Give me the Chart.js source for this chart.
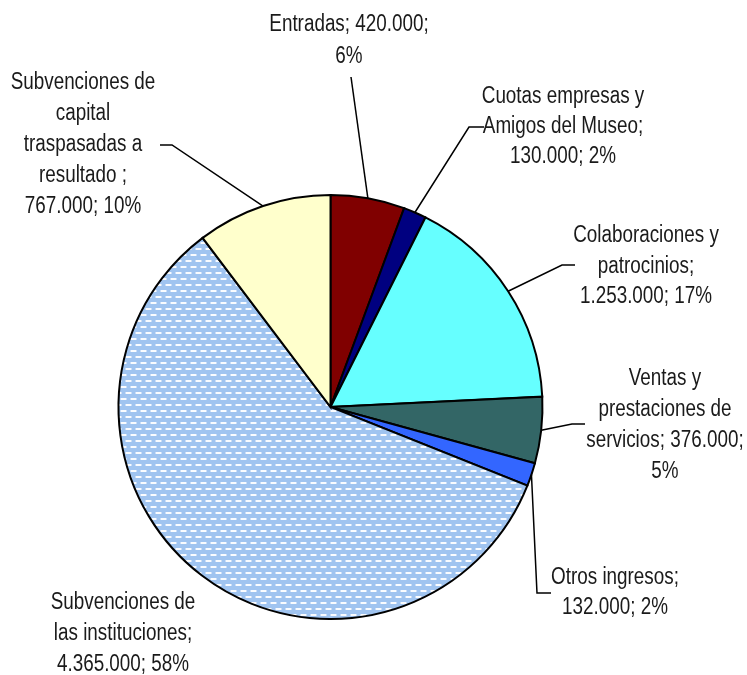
<!DOCTYPE html>
<html>
<head>
<meta charset="utf-8">
<script src="https://cdn.jsdelivr.net/npm/chart.js@4.4.1/dist/chart.umd.min.js"></script>
<style>
  html, body { margin: 0; padding: 0; background: #fff; }
  #wrap { width: 747px; height: 675px; }
</style>
</head>
<body>
<div id="wrap"><canvas id="myChart" width="747" height="675"></canvas></div>
<script>
// ingresos del museo
const categories = [
    'Entradas',
    'Cuotas empresas y Amigos del Museo',
    'Colaboraciones y patrocinios',
    'Ventas y prestaciones de servicios',
    'Otros ingresos',
    'Subvenciones de las instituciones',
    'Subvenciones de capital traspasadas a resultado'
];
const values = [420000, 130000, 1253000, 376000, 132000, 4365000, 767000];

// texto de las etiquetas, tal cual sale en el original
const labelLines = [
    ['Entradas; 420.000;', '6%'],
    ['Cuotas empresas y', 'Amigos del Museo;', '130.000; 2%'],
    ['Colaboraciones y', 'patrocinios;', '1.253.000; 17%'],
    ['Ventas y', 'prestaciones de', 'servicios; 376.000;', '5%'],
    ['Otros ingresos;', '132.000; 2%'],
    ['Subvenciones de', 'las instituciones;', '4.365.000; 58%'],
    ['Subvenciones de', 'capital', 'traspasadas a', 'resultado ;', '767.000; 10%']
];

// donde va cada etiqueta (centro x, primera linea y, salto) y el codo de la guia
const labelLayout = [
    { x: 349, y: 25, lh: 32, guide: [[351, 77]] },
    { x: 563, y: 97, lh: 30, guide: [[469, 127], [484, 127]] },
    { x: 646, y: 236, lh: 30.5, guide: [[562, 265], [575, 265]] },
    { x: 665, y: 379, lh: 31, guide: [[572, 424], [585, 424]] },
    { x: 615, y: 578, lh: 30, guide: [[537, 593], [551, 593]] },
    { x: 123, y: 603, lh: 31, guide: null },
    { x: 83, y: 83, lh: 31, guide: [[172, 145], [160, 145]] }
];

// trama de puntos para las subvenciones de las instituciones
function makeDots() {
    const c = document.createElement('canvas');
    c.width = 10;
    c.height = 12;
    const g = c.getContext('2d');
    g.fillStyle = '#a0c4f0';
    g.fillRect(0, 0, 10, 12);
    g.fillStyle = 'rgba(255,255,255,0.95)';
    g.fillRect(1, 2, 5, 2);
    g.fillRect(6, 8, 4, 2);
    g.fillRect(0, 8, 1, 2);
    g.fillStyle = 'rgba(255,255,255,0.45)';
    g.fillRect(0, 2, 1, 2);
    g.fillRect(6, 2, 1, 2);
    g.fillRect(5, 8, 1, 2);
    g.fillRect(1, 8, 1, 2);
    return g.createPattern(c, 'repeat');
}

const ctx0 = document.getElementById('myChart').getContext('2d');
const colors = ['#800000', '#000080', '#66ffff', '#336666', '#3366ff', makeDots(), '#ffffcc'];

// no hay Arial Narrow: Liberation Sans estrechada a mano
const FONT = '23px "Liberation Sans", Arial, sans-serif';
const NARROW = 0.82;

const outsideLabels = {
    id: 'outsideLabels',
    afterDatasetsDraw(chart) {
        const ctx = chart.ctx;
        const arcs = chart.getDatasetMeta(0).data;
        ctx.save();
        // lineas guia
        ctx.strokeStyle = '#000';
        ctx.lineWidth = 1.5;
        arcs.forEach((arc, i) => {
            const lay = labelLayout[i];
            if (!lay.guide) return;
            const p = arc.getProps(['x', 'y', 'startAngle', 'endAngle', 'outerRadius'], true);
            const mid = (p.startAngle + p.endAngle) / 2;
            ctx.beginPath();
            ctx.moveTo(p.x + Math.cos(mid) * p.outerRadius, p.y + Math.sin(mid) * p.outerRadius);
            lay.guide.forEach(pt => ctx.lineTo(pt[0], pt[1]));
            ctx.stroke();
        });
        // textos
        ctx.font = FONT;
        ctx.fillStyle = '#1a1a1a';
        ctx.textAlign = 'center';
        ctx.textBaseline = 'middle';
        labelLines.forEach((lines, i) => {
            const lay = labelLayout[i];
            lines.forEach((t, j) => {
                ctx.save();
                ctx.translate(lay.x, lay.y + j * lay.lh);
                ctx.scale(NARROW, 1);
                ctx.fillText(t, 0, 0);
                ctx.restore();
            });
        });
        ctx.restore();
    }
};

const config = {
    type: 'pie',
    data: {
        labels: categories,
        datasets: [{
            data: values,
            backgroundColor: colors,
            borderColor: '#000',
            borderWidth: 2,
            borderJoinStyle: 'miter'
        }]
    },
    options: {
        responsive: false,
        animation: false,
        layout: {
            padding: { left: 117, right: 203, top: 194, bottom: 55 }
        },
        plugins: {
            legend: { display: false },
            tooltip: { enabled: false }
        }
    },
    plugins: [outsideLabels]
};

const myChart = new Chart(ctx0, config);
</script>
</body>
</html>
